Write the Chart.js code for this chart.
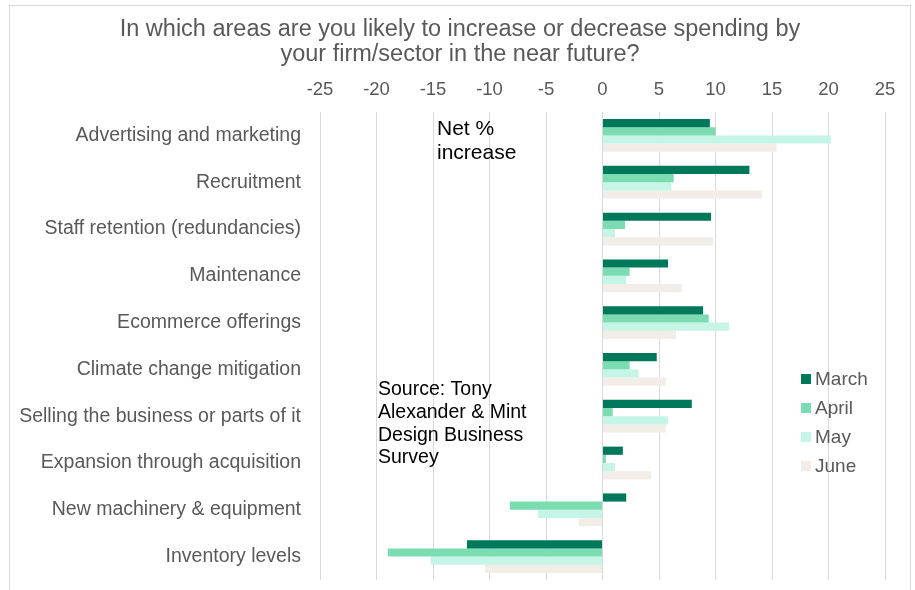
<!DOCTYPE html>
<html>
<head>
<meta charset="utf-8">
<script src="https://cdn.jsdelivr.net/npm/chart.js@4.4.1/dist/chart.umd.min.js"></script>
<style>
  html, body { margin: 0; padding: 0; background: #fff; }
  #wrap { position: relative; width: 915px; height: 590px; overflow: hidden; }
  #frame { position: absolute; left: 9px; top: 5px; width: 902px; height: 600px; border: 1px solid #d9d9d9; box-sizing: border-box; }
  canvas { position: absolute; left: 0; top: 0; }
</style>
</head>
<body>
<div id="wrap">
  <div id="frame"></div>
  <canvas id="spendChart" width="915" height="590"></canvas>
</div>
<script>
const categories = [
  "Advertising and marketing",
  "Recruitment",
  "Staff retention (redundancies)",
  "Maintenance",
  "Ecommerce offerings",
  "Climate change mitigation",
  "Selling the business or parts of it",
  "Expansion through acquisition",
  "New machinery & equipment",
  "Inventory levels"
];
const months = ["March", "April", "May", "June"];
const marchVals = [9.5, 13.0, 9.6, 5.8, 8.9, 4.8, 7.9, 1.8, 2.1, -12.0];
const aprilVals = [10.0, 6.3, 2.0, 2.4, 9.4, 2.4, 0.9, 0.3, -8.2, -19.0];
const mayVals   = [20.2, 6.1, 1.1, 2.1, 11.2, 3.2, 5.8, 1.1, -5.7, -15.2];
const juneVals  = [15.4, 14.1, 9.8, 7.0, 6.5, 5.6, 5.6, 4.3, -2.1, -10.4];
const xTicks = [-25, -20, -15, -10, -5, 0, 5, 10, 15, 20, 25];
const colours = ["#00785a", "#7adcb0", "#c5f5e6", "#f2ede6"];

const FONT = "'Liberation Sans', Arial, sans-serif";
const GREY = "#595959";

// nudge the title so it centres a little right of the full width
const titleShift = {
  id: "titleShift",
  afterLayout(chart) {
    if (chart.titleBlock) chart.titleBlock.left += 25;
  }
};

// legend drawn by hand so it can sit inside the plot on the right
const sideLegend = {
  id: "sideLegend",
  afterDraw(chart) {
    const ctx = chart.ctx;
    ctx.save();
    ctx.font = "19px " + FONT;
    ctx.textBaseline = "middle";
    chart.data.datasets.forEach((ds, i) => {
      const y = 379 + i * 29;
      ctx.fillStyle = ds.backgroundColor;
      ctx.fillRect(801, y - 5, 10, 10);
      ctx.fillStyle = GREY;
      ctx.fillText(ds.label, 815, y + 1);
    });
    ctx.restore();
  }
};

// free text boxes on the plot
const notes = {
  id: "notes",
  afterDraw(chart) {
    const ctx = chart.ctx;
    ctx.save();
    ctx.fillStyle = "#000";
    ctx.textBaseline = "middle";
    ctx.font = "21px " + FONT;
    ["Net %", "increase"].forEach((t, i) => ctx.fillText(t, 437, 129 + i * 24));
    ctx.font = "19.5px " + FONT;
    ["Source: Tony", "Alexander & Mint", "Design Business", "Survey"]
      .forEach((t, i) => ctx.fillText(t, 378, 390 + i * 22.7));
    ctx.restore();
  }
};

const valueSets = [marchVals, aprilVals, mayVals, juneVals];

new Chart(document.getElementById("spendChart"), {
  type: "bar",
  data: {
    labels: categories,
    datasets: months.map((m, i) => ({
      label: m,
      data: valueSets[i],
      backgroundColor: colours[i],
      categoryPercentage: 0.7,
      barPercentage: 1.0
    }))
  },
  options: {
    indexAxis: "y",
    responsive: false,
    animation: false,
    layout: { padding: { top: 17, left: 10, right: 30, bottom: 10 } },
    plugins: {
      legend: { display: false },
      tooltip: { enabled: false },
      title: {
        display: true,
        text: ["In which areas are you likely to increase or decrease spending by",
               "your firm/sector in the near future?"],
        color: GREY,
        font: { family: FONT, size: 23.5, weight: "normal", lineHeight: 1.064 },
        padding: { top: 0, bottom: 0 }
      }
    },
    scales: {
      x: {
        position: "top",
        min: -25,
        max: 25,
        afterBuildTicks: s => { s.ticks = xTicks.map(v => ({ value: v })); },
        afterFit: s => { s.height = 112 - 17 - 50; },
        ticks: { color: GREY, font: { family: FONT, size: 18.5 }, padding: 11 },
        grid: { color: "#d9d9d9", drawTicks: false },
        border: { display: false }
      },
      y: {
        afterFit: s => {
          s.width = 310;
          s.paddingTop = 0;
          s.paddingBottom = 0;
        },
        ticks: { color: GREY, font: { family: FONT, size: 19.5 }, padding: 19 },
        grid: { display: false, drawTicks: false },
        border: { display: false }
      }
    }
  },
  plugins: [titleShift, sideLegend, notes]
});
</script>
</body>
</html>
